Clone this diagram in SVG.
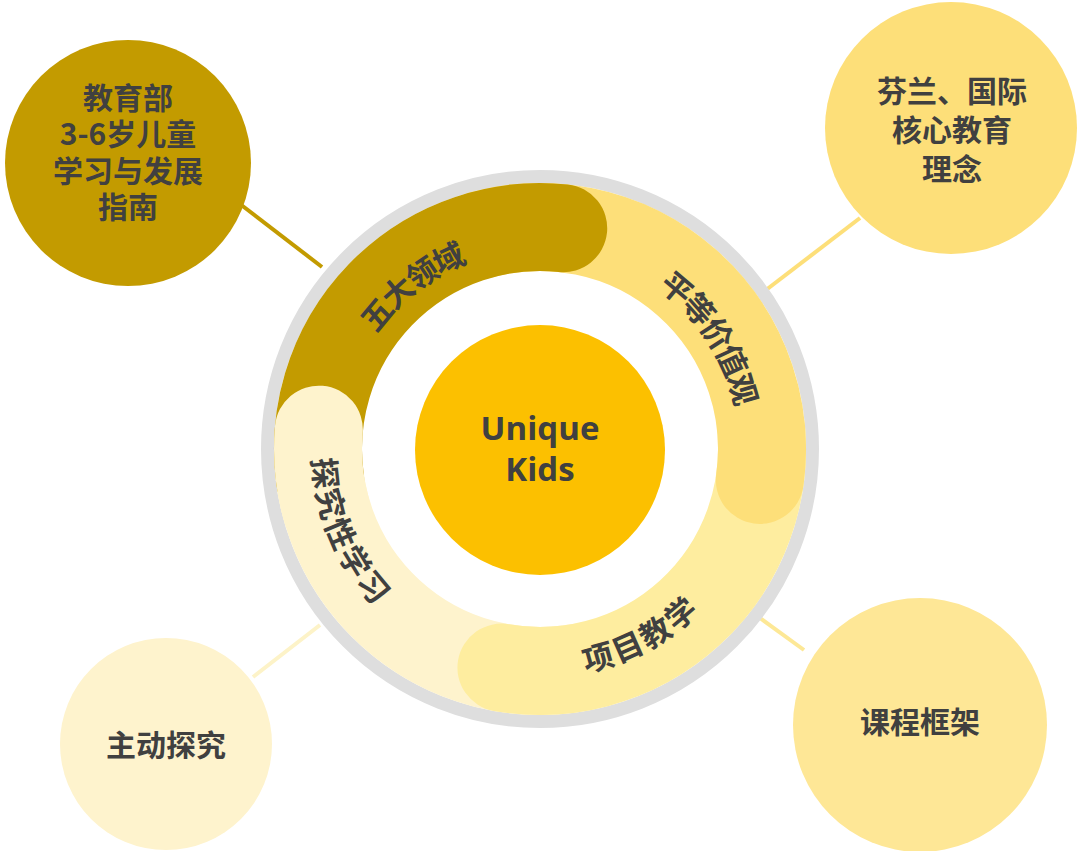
<svg xmlns="http://www.w3.org/2000/svg" width="1080" height="851" viewBox="0 0 1080 851">
  <style>
    .cjk { font-family: "Noto Sans CJK SC", "Noto Sans", sans-serif; font-weight: bold; fill: #404040; }
    .lbl { font-size: 30px; text-anchor: middle; }
    .arc { font-size: 31px; dominant-baseline: central; }
    .latin { font-family: "Open Sans", "Liberation Sans", sans-serif; font-weight: bold; fill: #404040; font-size: 33px; text-anchor: middle; }
    .band { fill: none; stroke-width: 88; stroke-linecap: round; }
    .conn { stroke-width: 4; fill: none; }
  </style>
  <defs>
    <path id="p-wuda" d="M328.08,478.78 A214,214 0 0 1 620.17,250.58"/>
    <path id="p-pingdeng" d="M528.80,235.29 A214,214 0 0 1 730.68,546.15"/>
    <path id="p-tanjiu" d="M369.09,320.21 A214,214 0 0 0 513.92,661.40"/>
    <path id="p-xiangmu" d="M426.60,630.48 A214,214 0 0 0 753.87,456.47"/>
  </defs>
  <rect width="1080" height="851" fill="#ffffff"/>

  <g id="connectors">
    <line class="conn" x1="240" y1="204" x2="322" y2="267" stroke="#c39b00"/>
    <line class="conn" x1="860" y1="218" x2="766" y2="290" stroke="#fddf79"/>
    <line class="conn" x1="253" y1="677" x2="320" y2="625" stroke="#fdf3c8"/>
    <line class="conn" x1="760" y1="618" x2="804" y2="650" stroke="#fde896"/>
  </g>

  <g id="ring">
    <circle cx="540" cy="449" r="272.5" fill="none" stroke="#dedede" stroke-width="13"/>
    <path class="band" stroke="#fef3cd" d="M578.55,667.63 A222,222 0 0 1 318.85,429.65"/>
    <path class="band" stroke="#feed9f" d="M761.15,429.65 A222,222 0 0 1 501.45,667.63"/>
    <path class="band" stroke="#fddf79" d="M482.54,234.56 A222,222 0 0 1 759.84,479.90"/>
    <path class="band" stroke="#c39b00" d="M320.16,479.90 A222,222 0 0 1 563.21,228.22"/>
    <path class="band" stroke="#fef3cd" d="M325.56,506.46 A222,222 0 0 1 318.85,429.65"/>
  </g>

  <g id="band-labels">
    <text class="cjk arc"><textPath href="#p-wuda" startOffset="50%" text-anchor="middle">五大领域</textPath></text>
    <text class="cjk arc"><textPath href="#p-pingdeng" startOffset="50%" text-anchor="middle">平等价值观</textPath></text>
    <text class="cjk arc"><textPath href="#p-tanjiu" startOffset="50%" text-anchor="middle">探究性学习</textPath></text>
    <text class="cjk arc"><textPath href="#p-xiangmu" startOffset="50%" text-anchor="middle">项目教学</textPath></text>
  </g>

  <g id="center">
    <circle cx="540" cy="450" r="125" fill="#fcc000"/>
    <text class="latin" x="540" y="440">Unique</text>
    <text class="latin" x="540" y="481">Kids</text>
  </g>

  <g id="node-guide">
    <circle cx="128" cy="163" r="123" fill="#c39b00"/>
    <text class="cjk lbl" x="128" y="109">教育部</text>
    <text class="cjk lbl" x="128" y="145">3-6岁儿童</text>
    <text class="cjk lbl" x="128" y="181.5">学习与发展</text>
    <text class="cjk lbl" x="128" y="217.5">指南</text>
  </g>

  <g id="node-finland">
    <circle cx="951" cy="128" r="126" fill="#fddf79"/>
    <text class="cjk lbl" x="952" y="102">芬兰、国际</text>
    <text class="cjk lbl" x="952" y="141">核心教育</text>
    <text class="cjk lbl" x="952" y="180">理念</text>
  </g>

  <g id="node-active">
    <circle cx="166" cy="744" r="106" fill="#fef3cd"/>
    <text class="cjk lbl" x="166" y="756">主动探究</text>
  </g>

  <g id="node-framework">
    <circle cx="920" cy="725" r="127" fill="#fee796"/>
    <text class="cjk lbl" x="920" y="733">课程框架</text>
  </g>
</svg>
